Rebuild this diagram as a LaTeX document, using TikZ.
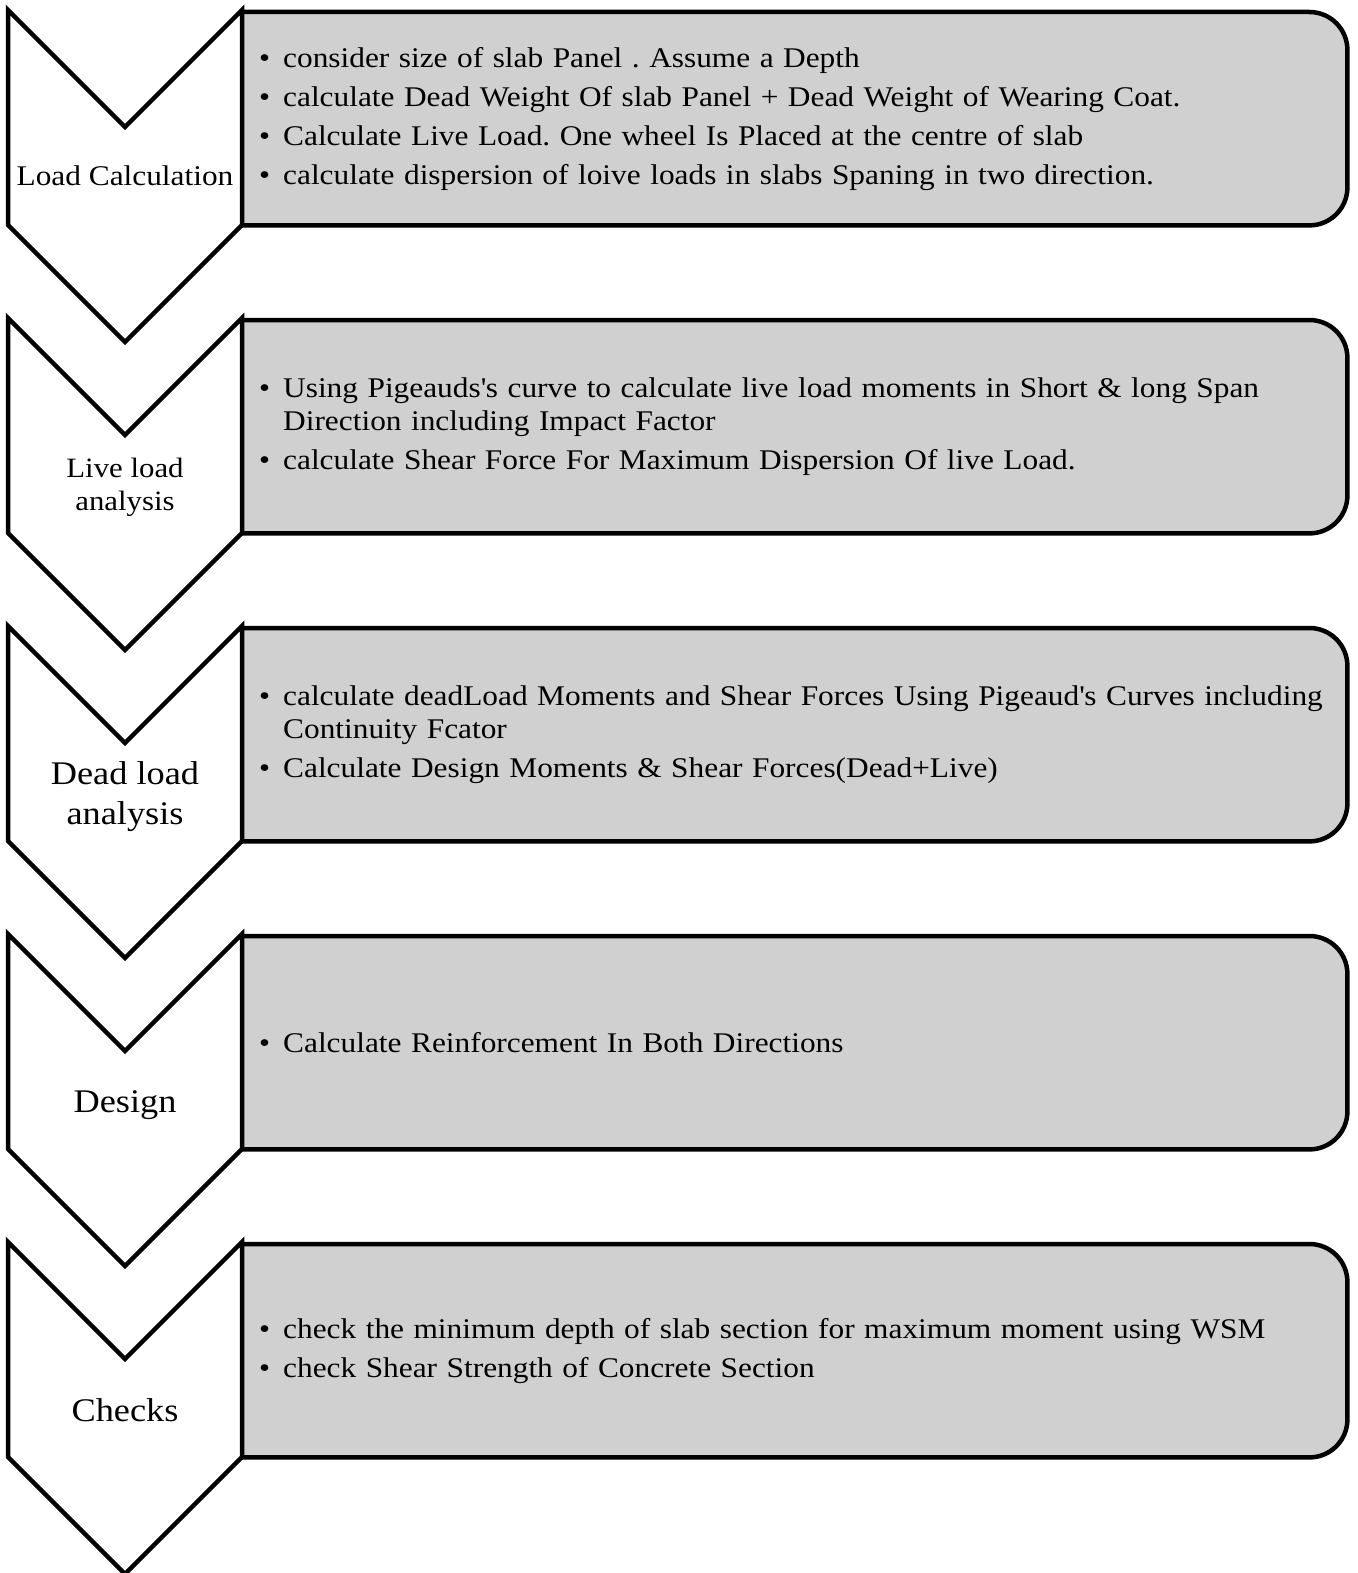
\documentclass[tikz,border=0pt]{standalone}
\usepackage{fontspec}
\setmainfont{Liberation Serif}[FakeStretch=1.10]
\usepackage{tikz}
\usetikzlibrary{backgrounds}
\definecolor{panelgray}{RGB}{208,208,208}
\newcommand{\panelfont}{\fontsize{28.5}{33}\selectfont\setlength{\parskip}{6pt}\frenchspacing\hyphenpenalty=10000\relax}
\newcommand{\pitem}[1]{\hangindent=33pt\hangafter=1\noindent\makebox[33pt][l]{\hspace{9pt}\textbullet}#1\par}

\begin{document}
\begin{tikzpicture}[x=1pt,y=-1pt]
	\tikzstyle{chevron}=[draw=black,fill=white,line width=4.5pt]
	\tikzstyle{panel}=[anchor=north west,minimum width=1105pt,minimum height=213pt,inner xsep=8pt,text width=1089pt,align=left,font=\panelfont]
	\tikzstyle{panelline}=[draw=black,fill=panelgray,line width=4.5pt,rounded corners=38pt]
	\tikzstyle{steplabel}=[align=center,inner sep=0pt]
	\useasboundingbox (0,0) rectangle (1357,1573);
	% text panels
	\node[panel](p1) at (242,12) {\pitem{consider size of slab Panel . Assume a Depth}
		\pitem{calculate Dead Weight Of slab Panel + Dead Weight of Wearing Coat.}
		\pitem{Calculate Live Load. One wheel Is Placed at the centre of slab}
		\pitem{calculate dispersion of loive loads in slabs Spaning in two direction.}};
	\node[panel](p2) at (242,320) {\pitem{Using Pigeauds\textquotesingle s curve to calculate live load moments in Short \& long Span\newline Direction including Impact Factor}
		\pitem{calculate Shear Force For Maximum Dispersion Of live Load.}};
	\node[panel](p3) at (242,628) {\pitem{calculate deadLoad Moments and Shear Forces Using Pigeaud\textquotesingle s Curves including\newline Continuity Fcator}
		\pitem{Calculate Design Moments \& Shear Forces(Dead+Live)}};
	\node[panel](p4) at (242,936) {\pitem{Calculate Reinforcement In Both Directions}};
	\node[panel](p5) at (242,1244) {\pitem{check the minimum depth of slab section for maximum moment using WSM}
		\pitem{check Shear Strength of Concrete Section}};
	\begin{pgfonlayer}{background}
		\foreach \p in {p1,p2,p3,p4,p5}
			\filldraw[panelline] (\p.north west) -- (\p.north east) -- (\p.south east) -- (\p.south west);
	\end{pgfonlayer}
	% chevrons
	\foreach \y in {10,318,626,934,1242}
		\draw[chevron] (8,\y) -- (125,\y+117) -- (242,\y) -- (242,\y+215) -- (125,\y+332) -- (8,\y+215) -- cycle;
	\node[steplabel,font=\fontsize{28.5}{33}\selectfont](s1) at (125,176) {Load Calculation};
	\node[steplabel,font=\fontsize{28}{33}\selectfont](s2) at (125,487) {Live load\\analysis};
	\node[steplabel,font=\fontsize{33}{40}\selectfont](s3) at (125,797) {Dead load\\analysis};
	\node[steplabel,font=\fontsize{33}{40}\selectfont](s4) at (125,1105) {Design};
	\node[steplabel,font=\fontsize{33}{40}\selectfont](s5) at (125,1410) {Checks};
\end{tikzpicture}
\end{document}
